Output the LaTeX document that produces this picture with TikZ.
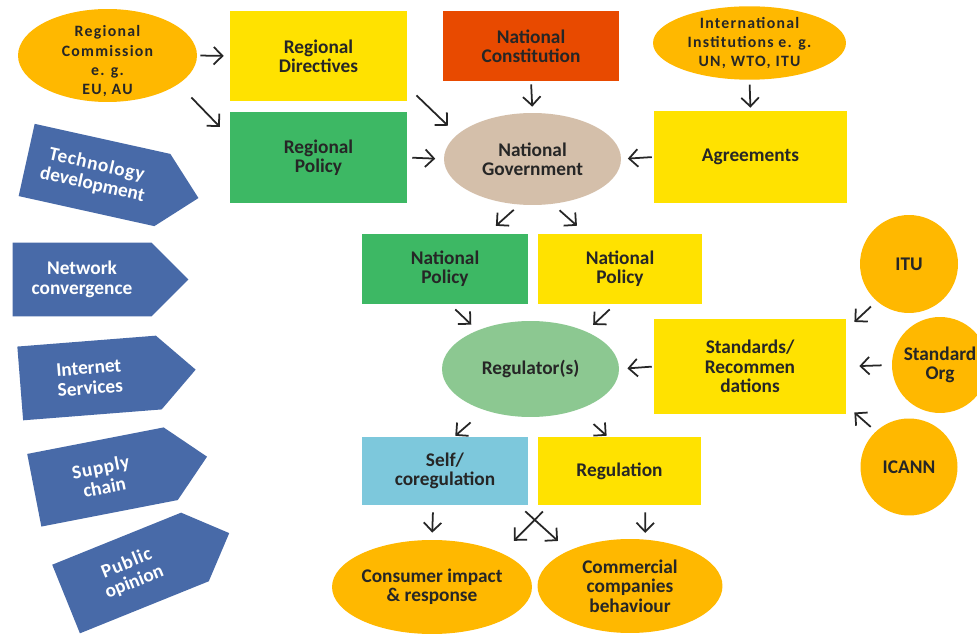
\documentclass[tikz,border=0pt]{standalone}
\usepackage{fontspec}
\setmainfont{Carlito}
\usetikzlibrary{arrows.meta,shapes.geometric,shapes.arrows}

\definecolor{boxyellow}{RGB}{255,226,0}
\definecolor{boxgreen}{RGB}{61,184,100}
\definecolor{boxred}{RGB}{232,74,0}
\definecolor{boxblue}{RGB}{125,200,220}
\definecolor{ovalorange}{RGB}{255,184,0}
\definecolor{ovaltan}{RGB}{212,191,170}
\definecolor{ovalgreen}{RGB}{140,200,145}
\definecolor{driverblue}{RGB}{72,106,168}
\definecolor{inkgray}{RGB}{38,38,38}

\begin{document}
\begin{tikzpicture}[
    x=0.02cm, y=-0.02cm,
    every node/.style={font=\bfseries\fontsize{11}{11}\selectfont,
        text=inkgray, align=center, inner sep=0pt},
    box/.style={rectangle, fill=#1},
    oval/.style={ellipse, fill=#1},
    body/.style={circle, fill=ovalorange},
    small text/.style={font=\bfseries\fontsize{9}{11}\selectfont
        \addfontfeature{LetterSpace=8}},
    driver/.style={single arrow, single arrow head extend=0pt,
        single arrow tip angle=90, fill=driverblue, text=white,
        minimum height=3.52cm, minimum width=1.48cm,
        font=\bfseries\fontsize{11}{11.5}\selectfont},
    link/.style={line width=1pt, -{Straight Barb[length=5pt, width=10pt]},
        draw=inkgray}
    ]
    \path[use as bounding box, fill=white] (0,0) rectangle (977,634);
    % regional level
    \node[oval=ovalorange, minimum width=3.58cm, minimum height=1.86cm]
        (rc) at (107.5,55.5) {};
    \node[small text] (rclabel) at ([yshift=-3.4pt]rc.center)
        {Regional\\Commission\\e. g.\\EU, AU};
    \node[box=boxyellow, minimum width=3.54cm, minimum height=1.8cm]
        (rd) at (318.5,56) {Regional\\Directives};
    \node[box=boxgreen, minimum width=3.54cm, minimum height=1.82cm]
        (rp) at (318.5,157.5) {Regional\\Policy};
    % national level
    \node[box=boxred, minimum width=3.52cm, minimum height=1.4cm]
        (nc) at (531,46) {National\\Constitution};
    \node[oval=ovalorange, small text, minimum width=3.86cm,
        minimum height=1.42cm] (ii) at (749.5,43)
        {International\\Institutions e. g.\\UN, WTO, ITU};
    \node[box=boxyellow, minimum width=3.86cm, minimum height=1.84cm]
        (agr) at (750.5,157) {Agreements};
    \node[oval=ovaltan, minimum width=3.54cm, minimum height=1.84cm]
        (ng) at (532.5,159) {National\\Government};
    \node[box=boxgreen, minimum width=3.32cm, minimum height=1.4cm]
        (npg) at (445,269) {National\\Policy};
    \node[box=boxyellow, minimum width=3.28cm, minimum height=1.4cm]
        (npy) at (620,269) {National\\Policy};
    % regulation level
    \node[oval=ovalgreen, minimum width=3.54cm, minimum height=1.92cm]
        (reg) at (530.5,369) {Regulator(s)};
    \node[box=boxyellow, minimum width=3.84cm, minimum height=1.9cm]
        (std) at (750,366.5) {Standards/\\Recommen\\dations};
    \node[body, minimum size=1.96cm] (itu) at (909,264) {ITU};
    \node[body, minimum size=1.92cm] (so) at (940,365) {Standard\\Org};
    \node[body, minimum size=1.94cm] (icann) at (909,467) {ICANN};
    \node[box=boxblue, minimum width=3.32cm, minimum height=1.36cm]
        (self) at (445,471) {Self/\\coregulation};
    \node[box=boxyellow, minimum width=3.26cm, minimum height=1.36cm]
        (regl) at (619.5,471) {Regulation};
    % outcomes
    \node[oval=ovalorange, minimum width=4cm, minimum height=1.88cm]
        (cons) at (432,587) {Consumer impact\\\& response};
    \node[oval=ovalorange, minimum width=3.7cm, minimum height=1.88cm]
        (comm) at (630,586) {Commercial\\companies\\behaviour};
    % drivers
    \node[driver, rotate=-12.5] (tech) at (94.5,175)
        {\addfontfeature{LetterSpace=4}Technology\\development};
    \node[driver] (net) at (82,279.5) {Network\\convergence};
    \node[driver, rotate=4.5] (inet) at (89.5,378) {Internet\\Services};
    \node[driver, rotate=11] (supply) at (102.5,477)
        {\addfontfeature{LetterSpace=4}Supply\\chain};
    \node[driver, rotate=22] (public) at (130.5,573)
        {\addfontfeature{LetterSpace=4}Public\\opinion};
    % regional arrows
    \draw[link, shorten <=1.7pt, shorten >=3.4pt] (rc.east) -- (rd.west);
    \draw[link, shorten <=10.5pt, shorten >=8pt] (rc.-22) -- (rp.167);
    \draw[link, shorten <=7.2pt, shorten >=7.2pt] (rd.-19) -- (ng.162);
    \draw[link, shorten <=2.8pt, shorten >=4.8pt] (rp.east) -- (ng.west);
    % national arrows
    \draw[link, shorten <=1.7pt, shorten >=3.4pt] (nc.south) -- (ng.north);
    \draw[link, shorten <=2.6pt, shorten >=1.7pt] (ii.south) -- (agr.north);
    \draw[link, shorten <=1.1pt, shorten >=3.7pt] (agr.west) -- (ng.east);
    \draw[link, shorten <=4.3pt, shorten >=6.7pt] (ng.254) -- (npg.40);
    \draw[link, shorten <=5.3pt, shorten >=6.8pt] (ng.-66) -- (npy.134);
    \draw[link, shorten <=4.2pt, shorten >=4.7pt] (npg.-82) -- (reg.144);
    \draw[link, shorten <=4.2pt, shorten >=5.4pt] (npy.-98) -- (reg.34);
    % regulator arrows
    \draw[link, shorten <=1.1pt, shorten >=4.6pt] (std.west) -- (reg.east);
    \draw[link, shorten <=4.4pt, shorten >=6.3pt] (itu.229) -- (std.21);
    \draw[link, shorten <=5.7pt, shorten >=7.4pt] (so.west) -- (std.east);
    \draw[link, shorten <=3.8pt, shorten >=6.1pt] (icann.133) -- (std.-22);
    \draw[link, shorten <=10.5pt, shorten >=0.8pt] (reg.222) -- (self.75);
    \draw[link, shorten <=12.1pt, shorten >=0.8pt] (reg.-41) -- (regl.109);
    % outcome arrows
    \draw[link, shorten <=4pt, shorten >=4pt] (self.-109) -- (cons.north);
    \draw[link, shorten <=4pt, shorten >=3.7pt] (regl.-53) -- (comm.72);
    \draw[link, shorten <=5.1pt, shorten >=8.1pt] (self.-25) -- (comm.150);
    \draw[link, shorten <=5pt, shorten >=9.8pt] (regl.206) -- (cons.26);
\end{tikzpicture}
\end{document}
